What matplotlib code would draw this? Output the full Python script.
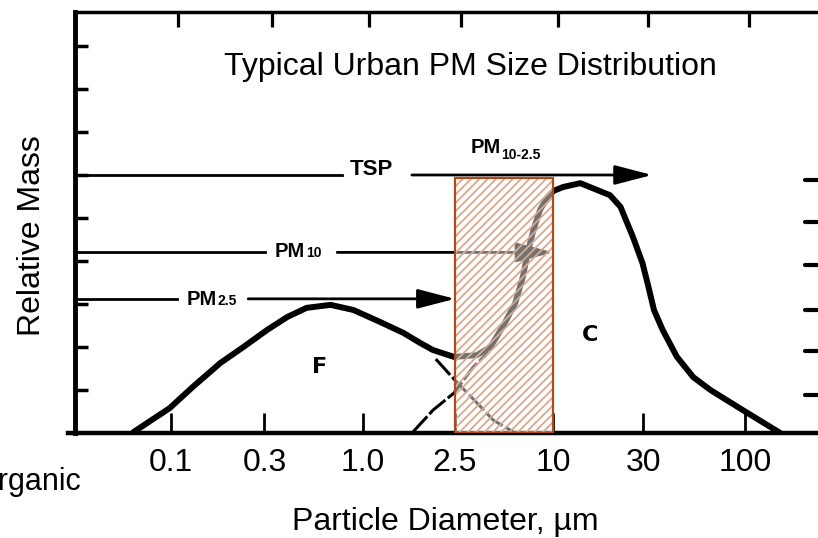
import matplotlib
matplotlib.use('Agg')
import matplotlib.pyplot as plt
from matplotlib.patches import Rectangle

plt.rcParams['font.family'] = ['Liberation Sans', 'DejaVu Sans']
plt.rcParams['hatch.linewidth'] = 1.3

# Particle diameter classes (um), drawn on an even, log-like scale
size_labels = ['0.1', '0.3', '1.0', '2.5', '10', '30', '100']
size_pos = [1.0, 1.98, 3.01, 3.97, 5.0, 5.94, 7.0]
top_tick_pos = [1.08, 2.06, 3.07, 4.03, 5.05, 5.99, 7.04]
mass_ticks = [1, 2, 3, 4, 5, 6, 7, 8, 9]
right_ticks = [5.88, 4.91, 3.91, 2.86, 1.91, 0.88]

# Total mass distribution (fine mode F + coarse mode C)
dist_x = [0.61, 0.99, 1.23, 1.52, 1.76, 2.01, 2.22, 2.42, 2.67, 2.91,
          3.19, 3.43, 3.61, 3.74, 3.96, 4.20, 4.34, 4.47, 4.60, 4.68,
          4.73, 4.79, 4.86, 4.94, 5.00, 5.10, 5.28, 5.59, 5.70, 5.83,
          5.93, 5.99, 6.05, 6.14, 6.29, 6.46, 6.64, 6.98, 7.37]
dist_y = [0.02, 0.58, 1.07, 1.63, 2.00, 2.40, 2.70, 2.91, 2.98, 2.86,
          2.58, 2.33, 2.09, 1.93, 1.77, 1.81, 2.00, 2.47, 3.02, 3.63,
          4.19, 4.72, 5.19, 5.49, 5.63, 5.72, 5.81, 5.53, 5.26, 4.56,
          3.95, 3.42, 2.86, 2.40, 1.77, 1.30, 1.00, 0.53, 0.00]

# Tails of the two modes where they overlap
fine_tail_x = [3.77, 3.97, 4.20, 4.37, 4.60]
fine_tail_y = [1.72, 1.23, 0.70, 0.30, 0.00]
coarse_tail_x = [3.53, 3.74, 3.96, 4.16, 4.32]
coarse_tail_y = [0.02, 0.53, 0.93, 1.53, 1.88]

# Sampler size cuts: level of the arrow, upper size position
tsp_level, tsp_cut = 6.0, 6.03
pm10_level, pm10_cut = 4.2, 5.0
pm25_level, pm25_cut = 3.12, 3.97
box_top = 5.93

fig = plt.figure(figsize=(8.18, 5.38), dpi=100)
ax = fig.add_axes([75 / 818, 105 / 538, 743 / 818, 421 / 538])
ax.set_xlim(0, 7.764)
ax.set_ylim(0, 9.79)

# Distribution curve and the overlapping tails
ax.plot(dist_x, dist_y, color='black', lw=4.3, solid_capstyle='round',
        solid_joinstyle='round', zorder=2)
ax.plot(fine_tail_x, fine_tail_y, color='black', lw=2.2, dashes=(7, 1), zorder=2)
ax.plot(coarse_tail_x, coarse_tail_y, color='black', lw=2.2, dashes=(7, 1), zorder=2)

# Size cut arrows, broken where the label sits
arrow = dict(arrowstyle='-|>,head_length=2.3,head_width=0.6', color='black',
             lw=2, shrinkA=0, shrinkB=0, mutation_scale=10)
cuts = [(tsp_level, tsp_cut, 2.79, 3.52),
        (pm10_level, pm10_cut, 1.985, 2.74),
        (pm25_level, pm25_cut, 1.066, 1.81)]
for level, cut, gap_l, gap_r in cuts:
    ax.plot([0, gap_l], [level, level], color='black', lw=2, zorder=2)
    ax.annotate('', xy=(cut, level), xytext=(gap_r, level), arrowprops=arrow, zorder=2)

# PM10-2.5 box: white veil and hatch on top of the curve
box_x, box_w = size_pos[3], size_pos[4] - size_pos[3]
ax.add_patch(Rectangle((box_x, 0), box_w, box_top, facecolor='white',
                       alpha=0.45, edgecolor='none', zorder=3))
ax.add_patch(Rectangle((box_x, 0), box_w, box_top, fill=False, hatch='////',
                       edgecolor='#dba88e', lw=0, zorder=3))
ax.add_patch(Rectangle((box_x, 0), box_w, box_top, fill=False,
                       edgecolor='#b04a18', lw=1.6, zorder=4))

# Labels on the arrows
ax.text(3.10, tsp_level, 'TSP', ha='center', va='baseline', fontsize=16,
        fontweight='bold', zorder=5)


def cut_label(x, y, main, sub, dy):
    t = ax.text(x, y, main, ha='left', va='baseline', fontsize=14.5,
                fontweight='bold', zorder=5)
    ax.annotate(sub, xy=(1, y), xycoords=(t, 'data'), xytext=(0.3, dy),
                textcoords='offset points', ha='left', va='baseline',
                fontsize=10, fontweight='bold', zorder=5)


cut_label(2.09, 4.09, 'PM', '10', 0)
cut_label(1.17, 2.98, 'PM', '2.5', 0)
cut_label(4.13, 6.51, 'PM', '10-2.5', -4.3)

ax.text(2.56, 1.53, 'F', ha='center', va='center', fontsize=16,
        fontweight='bold', family='DejaVu Sans')
ax.text(5.38, 2.28, 'C', ha='center', va='center', fontsize=16,
        fontweight='bold', family='DejaVu Sans')

ax.text(4.13, 8.33, 'Typical Urban PM Size Distribution', ha='center',
        va='baseline', fontsize=23)

# Axes, ticks and labels
ax.set_xticks(size_pos)
ax.set_xticklabels(size_labels, fontsize=23)
ax.set_yticks(mass_ticks)
ax.set_yticklabels([])
ax.tick_params(axis='x', direction='in', length=14.5, width=2, pad=11)
ax.tick_params(axis='y', direction='in', length=9.5, width=2.5)

sec = ax.secondary_xaxis('top')
sec.set_xticks(top_tick_pos)
sec.set_xticklabels([])
sec.tick_params(direction='in', length=11, width=2.3)
for s in sec.spines.values():
    s.set_visible(False)

ax.hlines(right_ticks, 7.63, 7.8, color='black', lw=3, capstyle='round')

ax.spines['right'].set_visible(False)
ax.spines['left'].set_linewidth(3.5)
ax.spines['bottom'].set_linewidth(3.2)
ax.spines['bottom'].set_bounds(-0.07, 7.764)
ax.spines['top'].set_linewidth(2.5)

ax.set_xlabel('Particle Diameter, µm', fontsize=23, va='center')
ax.xaxis.set_label_coords(0.498, -0.211)
ax.set_ylabel('Relative Mass', fontsize=23, va='center')
ax.yaxis.set_label_coords(-0.058, 0.47)

# The reference is cropped through this word at its left edge
fig.text(-0.031, 1 - 490 / 538, 'Organic', fontsize=22, va='baseline')

plt.savefig('out.png', dpi=100)
